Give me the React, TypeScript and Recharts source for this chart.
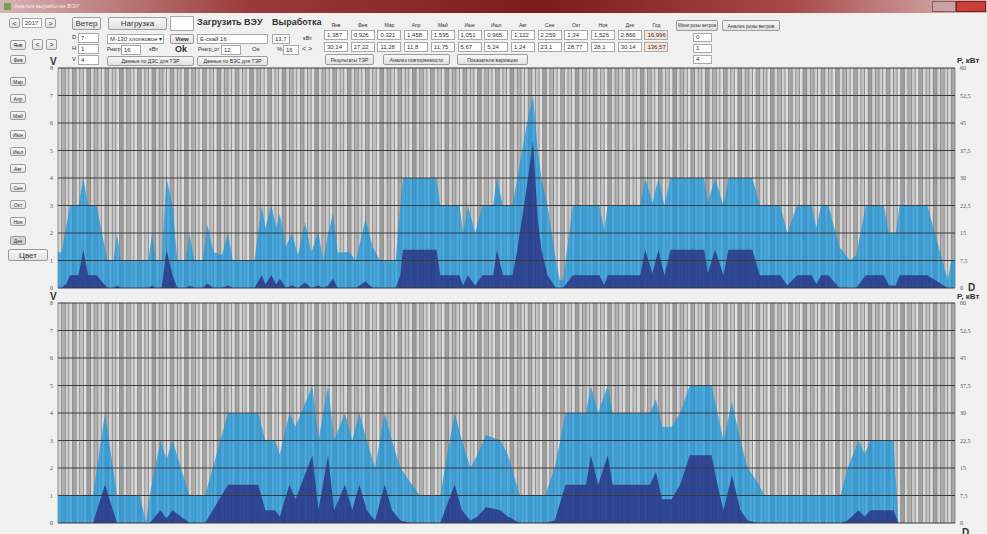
import React from "react";
import {
  ComposedChart,
  Area,
  XAxis,
  YAxis,
  CartesianGrid,
  ReferenceLine,
} from "recharts";

// months for buttons and the summary table
const months = ["Янв", "Фев", "Мар", "Апр", "Май", "Июн", "Июл", "Авг", "Сен", "Окт", "Ноя", "Дек"];
const tableHeads = [...months, "Год"];
const energyRow = ["1,387", "0,926", "0,321", "1,458", "1,595", "1,051", "0,965", "1,122", "2,259", "1,34", "1,526", "2,866", "16,996"];
const hoursRow = ["30,14", "27,22", "11,28", "11,8", "11,75", "5,67", "5,24", "1,24", "23,1", "28,77", "28,1", "30,14", "136,57"];

const vTicks = [0, 1, 2, 3, 4, 5, 6, 7, 8];
const pTicks = [0, 7.5, 15, 22.5, 30, 37.5, 45, 52.5, 60];
const HOURS = 744;
const gridHours = Array.from({ length: 249 }, (_, i) => i * 3);

// upper panel: hour of month, wind speed V, power P
const topHours = [
  0, 3, 7, 10, 17, 21, 25, 32, 41, 46,
  49, 52, 75, 78, 81, 86, 90, 95, 99, 106,
  109, 113, 120, 124, 129, 136, 141, 145, 163, 169,
  172, 177, 181, 184, 189, 194, 199, 205, 210, 216,
  220, 224, 228, 232, 242, 247, 255, 261, 267, 280,
  284, 286, 314, 317, 333, 336, 340, 346, 352, 361,
  364, 369, 377, 381, 389, 394, 398, 401, 406, 413,
  416, 419, 427, 449, 453, 456, 483, 487, 493, 498,
  503, 508, 536, 539, 545, 552, 556, 576, 582, 599,
  605, 613, 625, 629, 633, 639, 648, 657, 662, 670,
  685, 689, 695, 698, 721, 738, 741, 744,
];
const topWind = [
  1.3, 1.3, 2.3, 3, 3, 4, 3, 3, 1, 1,
  2, 1, 1, 2, 1, 1, 4, 3, 1, 1,
  2, 1, 1, 2.3, 1.3, 1.2, 2, 1, 1, 3,
  2.2, 3, 2.2, 2.7, 1.5, 2, 1.2, 2.4, 1.3, 2,
  1, 2, 2.7, 1.3, 1.3, 1, 2.5, 1.5, 1, 1,
  3, 4, 4, 3, 3, 2, 3, 2, 3, 3,
  4, 3, 3, 4, 6, 7, 5, 4, 3, 1,
  0.3, 0.3, 3, 3, 2.1, 3, 3, 4, 3.1, 4,
  3, 4, 4, 3.1, 4, 3, 4, 4, 3, 3,
  2, 3, 3, 2.2, 3, 3, 1.5, 1, 1.2, 3,
  3, 2, 2, 3, 3, 0.3, 1, 1,
];
const topPower = [
  0, 0, 1.2, 3.5, 3.5, 10.4, 3.5, 3.5, 0, 0,
  0.7, 0, 0, 0.7, 0, 0, 10.4, 3.5, 0, 0,
  0.7, 0, 0, 1.2, 0, 0, 0.7, 0, 0, 3.5,
  1, 3.5, 1, 2.5, 0.1, 0.7, 0, 1.5, 0, 0.7,
  0, 0.7, 2.5, 0, 0, 0, 1.8, 0.1, 0, 0,
  3.5, 10.4, 10.4, 3.5, 3.5, 0.7, 3.5, 0.7, 3.5, 3.5,
  10.4, 3.5, 3.5, 10.4, 28, 40, 18.5, 10.4, 3.5, 0,
  0, 0, 3.5, 3.5, 0.8, 3.5, 3.5, 10.4, 4, 10.4,
  3.5, 10.4, 10.4, 4, 10.4, 3.5, 10.4, 10.4, 3.5, 3.5,
  0.7, 3.5, 3.5, 1, 3.5, 3.5, 0.1, 0, 0, 3.5,
  3.5, 0.7, 0.7, 3.5, 3.5, 0, 0, 0,
];

// lower panel
const botHours = [
  0, 29, 39, 49, 68, 73, 76, 85, 90, 95,
  109, 122, 141, 166, 172, 180, 184, 192, 197, 211,
  216, 224, 229, 238, 244, 250, 256, 263, 271, 277,
  284, 292, 300, 317, 329, 335, 342, 348, 355, 367,
  373, 383, 404, 412, 421, 438, 442, 448, 456, 460,
  491, 496, 501, 509, 516, 524, 542, 547, 552, 559,
  566, 572, 580, 586, 649, 655, 664, 669, 674, 682,
  693, 697, 744,
];
const botWind = [
  1, 1, 4, 1, 1, 0, 1, 3, 2.3, 3,
  1, 1, 4, 4, 3, 3, 2.5, 4, 3.5, 5,
  3, 5, 3, 4, 3, 4, 3, 2, 4, 3,
  2, 1.5, 1, 1, 4, 3, 2, 2.5, 3.2, 3,
  2.5, 1, 1, 2, 4, 4, 5, 4, 5, 4,
  4, 4.5, 3.5, 3.5, 4, 5, 5, 4, 3, 4.4,
  3, 2, 1.5, 1, 1, 2, 3, 2.5, 3, 3,
  3, 0, 0,
];
const botPower = [
  0, 0, 10.4, 0, 0, 0, 0, 3.5, 1.2, 3.5,
  0, 0, 10.4, 10.4, 3.5, 3.5, 1.8, 10.4, 6.5, 18.5,
  3.5, 18.5, 3.5, 10.4, 3.5, 10.4, 3.5, 0.7, 10.4, 3.5,
  0.7, 0.1, 0, 0, 10.4, 3.5, 0.7, 1.8, 4.3, 3.5,
  1.8, 0, 0, 0.7, 10.4, 10.4, 18.5, 10.4, 18.5, 10.4,
  10.4, 14, 6.5, 6.5, 10.4, 18.5, 18.5, 10.4, 3.5, 13,
  3.5, 0.7, 0.1, 0, 0, 0.7, 3.5, 1.8, 3.5, 3.5,
  3.5, 0, 0,
];

const stripeFill = ["#d4d4d4", "#b2b2b2", "#cdcdcd", "#dcdcdc", "#a5a5a5", "#d6d6d6", "#c3c3c3", "#dedede", "#9d9d9d"];
const ui = { fontFamily: "'Liberation Sans', Arial, sans-serif", color: "#333" };

const Btn = ({ x, y, w, h, label, bold = false, size = 6, pressed = false }: any) => (
  <div
    style={{
      position: "absolute", left: x, top: y, width: w, height: h, boxSizing: "border-box",
      border: "1px solid #9c9c9c", borderRadius: 2,
      background: pressed ? "#d4d4d4" : "linear-gradient(#f7f7f7, #e1e1e1)",
      fontSize: size, fontWeight: bold ? 700 : 400, display: "flex", alignItems: "center",
      justifyContent: "center", whiteSpace: "nowrap", overflow: "hidden", ...ui,
    }}>
    {label}
  </div>
);

const Field = ({ x, y, w, h, value = "", tint = "#fff" }: any) => (
  <div
    style={{
      position: "absolute", left: x, top: y, width: w, height: h, boxSizing: "border-box",
      border: "1px solid #a9a9a9", background: tint, fontSize: 6, paddingLeft: 2,
      lineHeight: `${h - 2}px`, whiteSpace: "nowrap", overflow: "hidden", ...ui,
    }}>
    {value}
  </div>
);

const Txt = ({ x, y, children, size = 6, bold = false }: any) => (
  <div style={{ position: "absolute", left: x, top: y, fontSize: size, fontWeight: bold ? 700 : 400, whiteSpace: "nowrap", ...ui }}>
    {children}
  </div>
);

// stripe lines every 3 hours across the plot
const stripeLines = ({ offset }: any) => gridHours.map((h) => offset.left + (h / HOURS) * offset.width);

const Panel = ({ top, hours, wind, power }: any) => {
  const rows = hours.map((h: number, i: number) => ({ h, v: wind[i], p: power[i] }));
  return (
    <div style={{ position: "absolute", left: 0, top }}>
      <ComposedChart width={987} height={240} data={rows} margin={{ top: 12, right: 8, bottom: 8, left: 38 }}>
        <XAxis dataKey="h" type="number" domain={[0, HOURS]} ticks={gridHours} interval={0}
          tick={false} axisLine={false} tickLine={false} height={0} />
        <YAxis yAxisId="v" domain={[0, 8]} ticks={vTicks} interval={0} width={20}
          axisLine={false} tickLine={false} tickSize={3} tick={{ fontSize: 6, fill: "#555" }} />
        <YAxis yAxisId="p" orientation="right" domain={[0, 60]} ticks={pTicks} interval={0} width={24}
          axisLine={false} tickLine={false} tickSize={3} tick={{ fontSize: 6, fill: "#555", textAnchor: "start" }}
          tickFormatter={(t: number) => String(t).replace(".", ",")} />
        <CartesianGrid yAxisId="v" horizontal={false} stroke="#8e8e8e" fill="#cccccc"
          verticalFill={stripeFill} verticalCoordinatesGenerator={stripeLines} />
        <Area yAxisId="v" type="linear" dataKey="v" stroke="none" fill="#1896de" fillOpacity={0.72}
          isAnimationActive={false} />
        <Area yAxisId="p" type="linear" dataKey="p" stroke="none" fill="#28287c" fillOpacity={0.75}
          isAnimationActive={false} />
        {vTicks.map((t) => (
          <ReferenceLine key={t} yAxisId="v" y={t} stroke="#3a3a3a" strokeWidth={1} />
        ))}
      </ComposedChart>
    </div>
  );
};

export default function App() {
  const cellX = (i: number) => 324 + i * 26.7;
  return (
    <div style={{ position: "relative", width: 987, height: 534, background: "#f0f0f0", overflow: "hidden" }}>
      <style>{`body{margin:0}`}</style>
      {/* window title bar */}
      <div style={{ position: "absolute", left: 0, top: 0, width: 987, height: 13,
        background: "linear-gradient(90deg, #d8b4b4 0%, #9c3a3a 25%, #7a1c1c 55%, #a84848 80%, #d9b9b9 100%)" }} />
      <div style={{ position: "absolute", left: 4, top: 3, width: 7, height: 7, background: "#6aa84f" }} />
      <div style={{ position: "absolute", left: 14, top: 3, fontSize: 6, color: "#f4e8e8", fontFamily: ui.fontFamily }}>
        Анализ выработки ВЭУ
      </div>
      <div style={{ position: "absolute", left: 932, top: 1, width: 22, height: 9, background: "#c9a3a3", border: "1px solid #8c5a5a" }} />
      <div style={{ position: "absolute", left: 956, top: 1, width: 28, height: 9, background: "#c8403a", border: "1px solid #7a1e1e" }} />

      {/* left controls */}
      <Btn x={9} y={18} w={11} h={10} label="<" size={7} />
      <Field x={22} y={18} w={20} h={10} value="2017" />
      <Btn x={45} y={18} w={11} h={10} label=">" size={7} />
      <Btn x={10} y={40} w={16} h={10} label="Янв" size={5} />
      <Btn x={32} y={39} w={11} h={11} label="<" size={7} />
      <Btn x={46} y={39} w={11} h={11} label=">" size={7} />
      {months.slice(1).map((m, i) => (
        <Btn key={m} x={10} y={[55, 77, 94, 111, 130, 147, 164, 183, 200, 217, 236][i]} w={16} h={9}
          label={m} size={5} pressed={m === "Дек"} />
      ))}
      <Btn x={8} y={249} w={40} h={12} label="Цвет" size={8} />

      <Btn x={72} y={17} w={29} h={13} label="Ветер" size={8} />
      <Btn x={108} y={17} w={59} h={13} label="Нагрузка" size={8} />
      <Field x={170} y={16} w={24} h={15} />
      <Txt x={197} y={17} size={9} bold>Загрузить ВЭУ</Txt>
      <Txt x={272} y={17} size={9} bold>Выработка</Txt>

      <Txt x={72} y={34}>D</Txt>
      <Field x={78} y={33} w={21} h={10} value="7" />
      <Txt x={72} y={45}>H</Txt>
      <Field x={78} y={44} w={21} h={10} value="1" />
      <Txt x={72} y={56}>V</Txt>
      <Field x={78} y={55} w={21} h={10} value="4" />

      <Field x={107} y={34} w={57} h={10} value="М-130 хлопковое ▾" />
      <Btn x={170} y={34} w={24} h={10} label="View" bold size={6} />
      <Field x={197} y={34} w={71} h={10} value="Е-скай 16" />
      <Field x={272} y={34} w={18} h={10} value="13,7" />
      <Txt x={303} y={35}>кВт</Txt>

      <Txt x={107} y={46} size={5}>Рнагр</Txt>
      <Field x={121} y={45} w={20} h={10} value="16" />
      <Txt x={149} y={46}>кВт</Txt>
      <Txt x={175} y={44} size={9} bold>Ok</Txt>
      <Txt x={198} y={46} size={5}>Рнагр_от</Txt>
      <Field x={221} y={45} w={20} h={10} value="12" />
      <Txt x={252} y={46}>Ок</Txt>
      <Txt x={277} y={46}>%</Txt>
      <Field x={283} y={45} w={16} h={10} value="16" />
      <Txt x={302} y={45} size={7}>{"< >"}</Txt>

      <Btn x={107} y={56} w={87} h={10} label="Данные по ДЭС для ТЭР" size={5} />
      <Btn x={197} y={56} w={71} h={10} label="Данные по ВЭС для ТЭР" size={5} />

      {/* summary table */}
      {tableHeads.map((m, i) => (
        <React.Fragment key={m}>
          <div style={{ position: "absolute", left: cellX(i), top: 22, width: 24, textAlign: "center", fontSize: 5, ...ui }}>{m}</div>
          <Field x={cellX(i)} y={30} w={24} h={10} value={energyRow[i]} tint={i === 12 ? "#fbe4da" : "#fff"} />
          <Field x={cellX(i)} y={42} w={24} h={10} value={hoursRow[i]} tint={i === 12 ? "#fbe4da" : "#fff"} />
        </React.Fragment>
      ))}
      <Btn x={325} y={54} w={49} h={11} label="Результаты ТЭР" size={5} />
      <Btn x={383} y={54} w={67} h={11} label="Анализ повторяемости" size={5} />
      <Btn x={457} y={54} w={71} h={11} label="Показатели вариации" size={5} />

      <Btn x={676} y={20} w={42} h={11} label="Мини розы ветров" size={4.5} />
      <Btn x={722} y={20} w={58} h={11} label="Анализ розы ветров" size={5} />
      <Field x={693} y={33} w={19} h={9} value="0" />
      <Field x={693} y={44} w={19} h={9} value="1" />
      <Field x={693} y={55} w={19} h={9} value="4" />

      {/* charts */}
      <Panel top={56} hours={topHours} wind={topWind} power={topPower} />
      <Panel top={291} hours={botHours} wind={botWind} power={botPower} />

      <Txt x={50} y={56} size={10} bold>V</Txt>
      <Txt x={50} y={291} size={10} bold>V</Txt>
      <Txt x={957} y={56} size={8} bold>P, кВт</Txt>
      <Txt x={957} y={292} size={8} bold>P, кВт</Txt>
      <Txt x={968} y={282} size={10} bold>D</Txt>
      <Txt x={962} y={527} size={10} bold>D</Txt>
    </div>
  );
}
